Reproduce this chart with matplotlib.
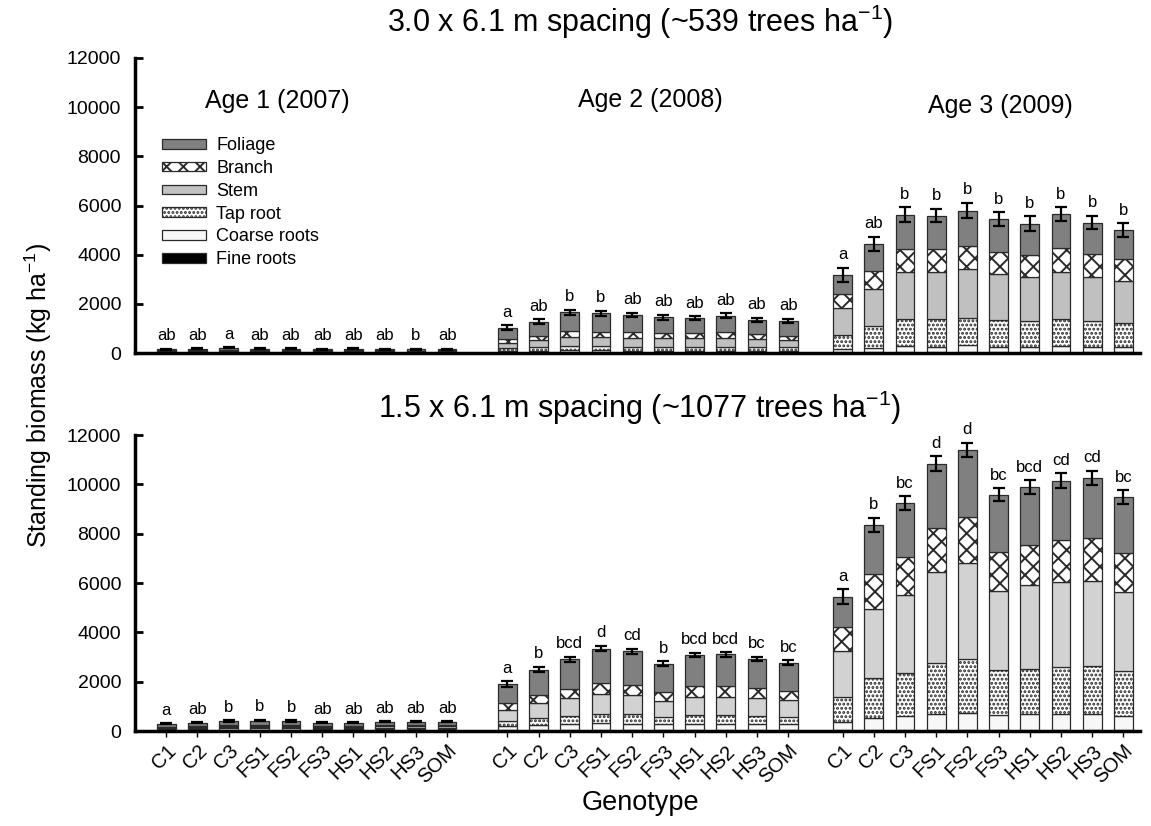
import numpy as np
import matplotlib
matplotlib.use("Agg")
import matplotlib.pyplot as plt
from matplotlib.patches import Patch

plt.rcParams['font.family'] = ['Liberation Sans', 'DejaVu Sans']
plt.rcParams['mathtext.fontset'] = 'custom'
plt.rcParams['mathtext.rm'] = 'Liberation Sans'
plt.rcParams['mathtext.it'] = 'Liberation Sans:italic'
plt.rcParams['hatch.linewidth'] = 1.4
plt.rcParams['hatch.color'] = 'black'

genotypes = ['C1', 'C2', 'C3', 'FS1', 'FS2', 'FS3', 'HS1', 'HS2', 'HS3', 'SOM']
ages = ['Age 1 (2007)', 'Age 2 (2008)', 'Age 3 (2009)']
components = ['Fine roots', 'Coarse roots', 'Tap root', 'Stem', 'Branch', 'Foliage']

# ---- 3.0 x 6.1 m spacing (kg/ha), one list per age ----
wide_fine = [[35, 38, 40, 35, 35, 35, 35, 35, 33, 35],
             [30, 30, 30, 30, 30, 30, 30, 30, 30, 30],
             [40, 40, 40, 40, 40, 40, 40, 40, 40, 40]]
wide_coarse = [[20, 22, 30, 23, 22, 20, 21, 20, 19, 20],
               [50, 60, 80, 80, 70, 70, 70, 70, 65, 60],
               [110, 165, 245, 215, 270, 215, 215, 245, 215, 190]]
wide_tap = [[15, 15, 20, 17, 16, 15, 16, 15, 15, 15],
            [110, 140, 175, 175, 155, 150, 150, 155, 145, 140],
            [580, 895, 1100, 1115, 1115, 1075, 1035, 1085, 1045, 1005]]
wide_stem = [[25, 25, 35, 28, 27, 25, 26, 25, 23, 25],
             [230, 300, 380, 380, 370, 345, 345, 370, 315, 300],
             [1085, 1505, 1925, 1940, 1975, 1870, 1790, 1940, 1805, 1705]]
wide_branch = [[10, 10, 15, 12, 12, 10, 10, 10, 10, 10],
               [135, 160, 230, 205, 245, 205, 205, 245, 205, 160],
               [585, 745, 935, 910, 970, 900, 895, 965, 910, 870]]
wide_foliage = [[55, 55, 75, 60, 58, 55, 57, 55, 50, 55],
                [475, 585, 760, 745, 675, 650, 610, 650, 585, 610],
                [775, 1090, 1375, 1370, 1425, 1340, 1290, 1370, 1290, 1195]]
wide_err = [[20, 20, 25, 20, 20, 20, 20, 20, 20, 20],
            [90, 100, 110, 110, 95, 95, 85, 95, 95, 90],
            [300, 290, 300, 280, 320, 280, 300, 290, 280, 270]]
wide_letters = [['ab', 'ab', 'a', 'ab', 'ab', 'ab', 'ab', 'ab', 'b', 'ab'],
                ['a', 'ab', 'b', 'b', 'ab', 'ab', 'ab', 'ab', 'ab', 'ab'],
                ['a', 'ab', 'b', 'b', 'b', 'b', 'b', 'b', 'b', 'b']]

# ---- 1.5 x 6.1 m spacing ----
close_fine = [[40, 45, 55, 53, 54, 45, 45, 47, 47, 47],
              [40, 40, 40, 40, 40, 40, 40, 40, 40, 40],
              [50, 50, 50, 50, 50, 50, 50, 50, 50, 50]]
close_coarse = [[35, 40, 50, 50, 48, 40, 40, 45, 45, 45],
                [160, 200, 230, 270, 245, 230, 245, 245, 230, 230],
                [330, 490, 555, 635, 665, 595, 625, 635, 635, 570]]
close_tap = [[30, 35, 40, 42, 40, 35, 35, 38, 38, 38],
             [215, 300, 335, 375, 390, 310, 360, 360, 350, 310],
             [990, 1590, 1765, 2090, 2220, 1820, 1855, 1915, 1940, 1805]]
close_stem = [[50, 55, 70, 70, 68, 55, 55, 63, 63, 63],
              [435, 580, 715, 835, 780, 630, 740, 740, 700, 670],
              [1870, 2825, 3125, 3690, 3865, 3230, 3370, 3435, 3475, 3205]]
close_branch = [[25, 30, 35, 40, 35, 30, 30, 32, 32, 32],
                [270, 335, 380, 430, 430, 380, 445, 445, 405, 380],
                [960, 1415, 1545, 1765, 1860, 1575, 1630, 1710, 1710, 1575]]
close_foliage = [[120, 135, 160, 165, 160, 135, 135, 150, 150, 150],
                 [780, 1035, 1210, 1390, 1345, 1130, 1240, 1280, 1195, 1145],
                 [1250, 1980, 2200, 2610, 2730, 2305, 2355, 2410, 2450, 2275]]
close_err = [[20, 20, 25, 25, 25, 20, 20, 20, 20, 20],
             [110, 110, 110, 110, 100, 100, 90, 90, 100, 90],
             [290, 300, 280, 290, 300, 270, 280, 290, 280, 280]]
close_letters = [['a', 'ab', 'b', 'b', 'b', 'ab', 'ab', 'ab', 'ab', 'ab'],
                 ['a', 'b', 'bcd', 'd', 'cd', 'b', 'bcd', 'bcd', 'bc', 'bc'],
                 ['a', 'b', 'bc', 'd', 'd', 'bc', 'bcd', 'cd', 'cd', 'bc']]

styles = {
    'Fine roots':   dict(facecolor='black', hatch=None),
    'Coarse roots': dict(facecolor='#f7f7f7', hatch=None),
    'Tap root':     dict(facecolor='white', hatch='....'),
    'Stem':         dict(facecolor='#c2c2c2', hatch=None),
    'Branch':       dict(facecolor='white', hatch='xx'),
    'Foliage':      dict(facecolor='#808080', hatch=None),
}

group_start = [0.0, 10.93, 21.67]
W, H = 1151, 826


def draw_panel(ax, parts, err, letters, stem_color):
    for g in range(3):
        x = group_start[g] + np.arange(len(genotypes))
        bottom = np.zeros(len(genotypes))
        for name, vals in zip(components, parts):
            v = np.array(vals[g], dtype=float)
            st = styles[name]
            fc = stem_color if name == 'Stem' else st['facecolor']
            ax.bar(x, v, 0.6, bottom=bottom, facecolor=fc,
                   hatch=st['hatch'], edgecolor='#2a2a2a', linewidth=0.9)
            bottom += v
        ax.errorbar(x, bottom, yerr=err[g], fmt='none', ecolor='black',
                    elinewidth=1.6, capsize=4.5, capthick=1.6)
        for xi, top, e, lab in zip(x, bottom, err[g], letters[g]):
            ax.annotate(lab, (xi, top + e), xytext=(0, 4), textcoords='offset points',
                        ha='center', va='bottom', fontsize=12)
    ax.set_ylim(0, 12000)
    ax.set_xlim(-1.0, 31.2)
    ax.set_yticks(np.arange(0, 12001, 2000))
    ax.tick_params(axis='y', direction='in', length=6, width=2, labelsize=14, pad=10)
    for s in ['top', 'right']:
        ax.spines[s].set_visible(False)
    ax.spines['left'].set_linewidth(2.5)
    ax.spines['bottom'].set_linewidth(2.5)


fig = plt.figure(figsize=(W / 100, H / 100), dpi=100)
ax1 = fig.add_axes([135 / W, 1 - 353 / H, (1140 - 135) / W, (353 - 58) / H])
ax2 = fig.add_axes([135 / W, 1 - 731 / H, (1140 - 135) / W, (731 - 435) / H])

draw_panel(ax1, [wide_fine, wide_coarse, wide_tap, wide_stem, wide_branch, wide_foliage],
           wide_err, wide_letters, '#c0c0c0')
draw_panel(ax2, [close_fine, close_coarse, close_tap, close_stem, close_branch, close_foliage],
           close_err, close_letters, '#d2d2d2')

ax1.set_xticks([])
xt = np.concatenate([group_start[g] + np.arange(len(genotypes)) for g in range(3)])
ax2.set_xticks(xt)
ax2.set_xticklabels(genotypes * 3, rotation=45, ha='right', rotation_mode='anchor', fontsize=14.5)
ax2.tick_params(axis='x', direction='out', length=4, width=1)

# legend
handles = [Patch(facecolor=styles[n]['facecolor'], hatch=styles[n]['hatch'],
                 edgecolor='#2a2a2a', linewidth=0.9, label=n) for n in components[::-1]]
ax1.legend(handles=handles, loc='upper left', bbox_to_anchor=(146 / W, 1 - 121 / H),
           bbox_transform=fig.transFigure, frameon=False, fontsize=13,
           handlelength=2.4, handleheight=0.45, labelspacing=0.32, handletextpad=0.6)

# text
age_x = [277, 650, 1000]
age_y = [101, 100, 106]
for lab, px, py in zip(ages, age_x, age_y):
    fig.text(px / W, 1 - py / H, lab, ha='center', va='center', fontsize=18)

fig.text(640 / W, 1 - 22 / H, '3.0 x 6.1 m spacing (~539 trees ha$^{-1}$)',
         ha='center', va='center', fontsize=22)
fig.text(640 / W, 1 - 408 / H, '1.5 x 6.1 m spacing (~1077 trees ha$^{-1}$)',
         ha='center', va='center', fontsize=22)
fig.text(38 / W, 1 - 396 / H, 'Standing biomass (kg ha$^{-1}$)', rotation=90,
         ha='center', va='center', fontsize=18)
fig.text(640 / W, 1 - 803 / H, 'Genotype', ha='center', va='center', fontsize=19.5)

fig.savefig('out.png', dpi=100)
